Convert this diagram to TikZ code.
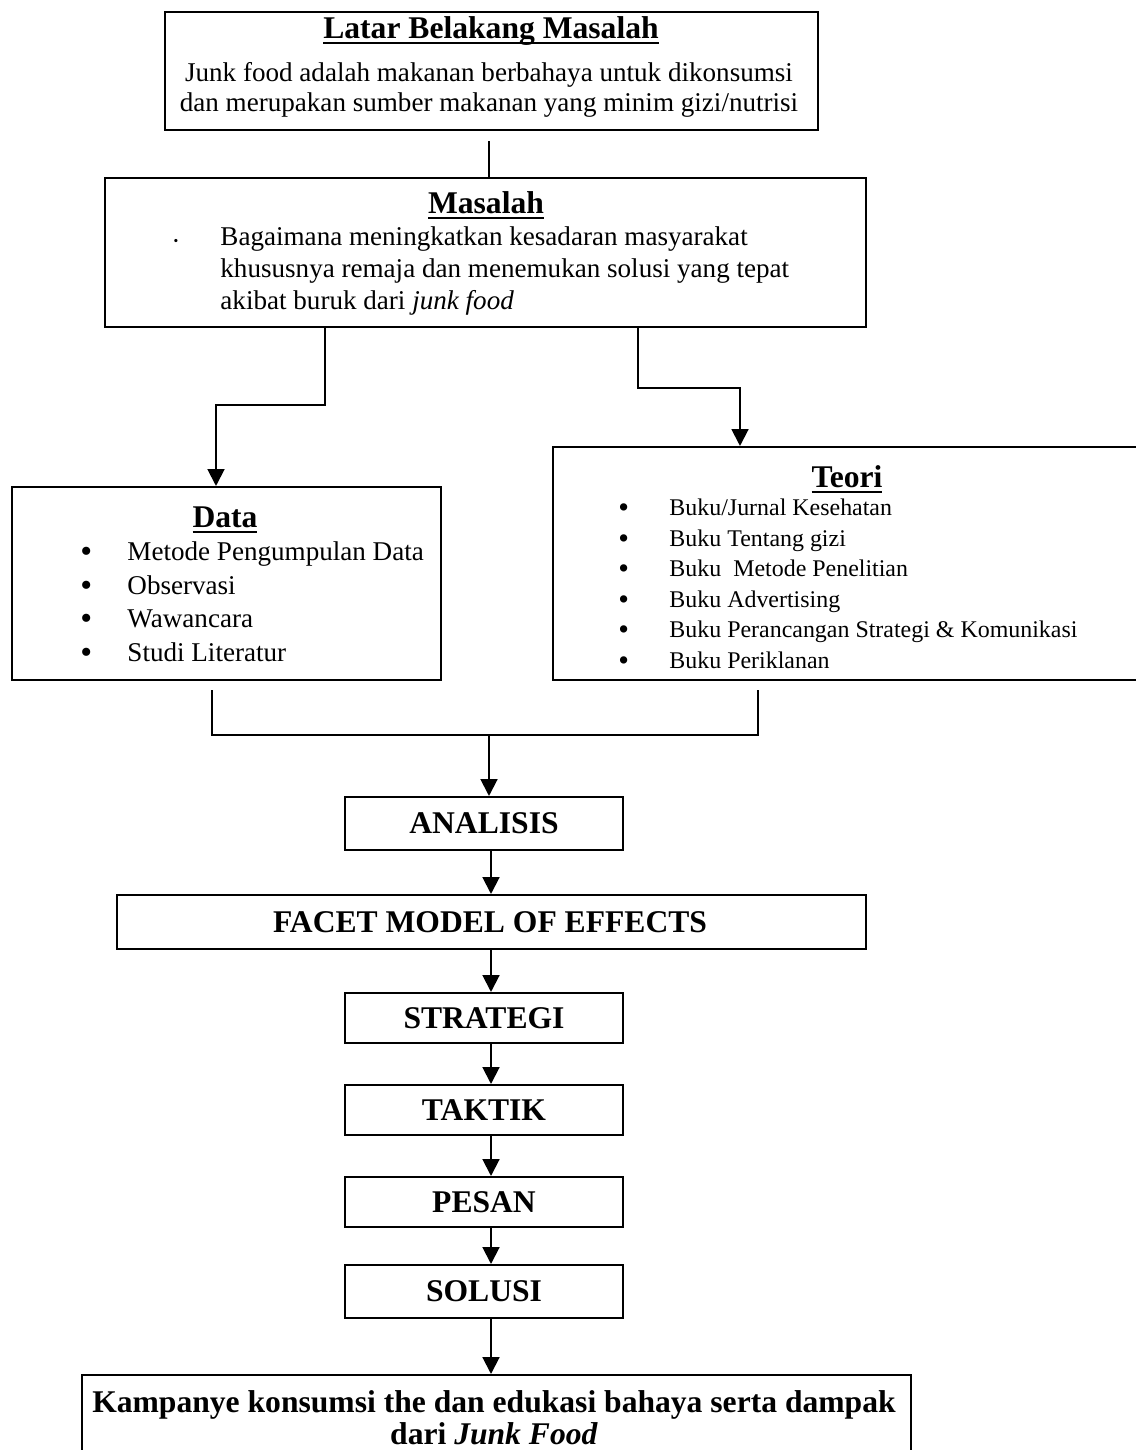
\documentclass[tikz,border=0pt]{standalone}
\usepackage{fontspec}
\setmainfont{Liberation Serif}
\usetikzlibrary{arrows.meta,fit}

\newcommand\garisbawah[1]{\setbox0\hbox{#1}\rlap{\rule[-2.4pt]{\wd0}{0.9pt}}\box0}

\tikzset{
  kotak/.style={draw, line width=0.9pt, inner sep=0pt},
  judul/.style={font=\fontsize{14}{16}\selectfont\bfseries},
  isi/.style={font=\fontsize{12}{14}\selectfont, anchor=base west, inner sep=0pt},
  kecil/.style={font=\fontsize{10.6}{12}\selectfont, anchor=base west, inner sep=0pt},
  titik/.style={font=\fontsize{15}{15}\selectfont, anchor=base west, inner sep=0pt},
  garis/.style={line width=0.9pt},
  panah/.style={garis, -{Triangle[length=7.5pt,width=7.5pt]}}
}

\begin{document}
\begin{tikzpicture}[x=0.443pt, y=-0.443pt]
  \useasboundingbox (0,0) rectangle (1135,1450);
  % kotak
  \node[kotak, fit={(165,12) (818,130)}] (latar) {};
  \node[kotak, fit={(105,178) (866,327)}] (masalah) {};
  \node[kotak, fit={(12,487) (441,680)}] (data) {};
  \node[kotak, fit={(553,447) (1141,680)}] (teori) {};
  \node[kotak, fit={(345,797) (623,850)}] (analisis) {};
  \node[kotak, fit={(117,895) (866,949)}] (facet) {};
  \node[kotak, fit={(345,993) (623,1043)}] (strategi) {};
  \node[kotak, fit={(345,1085) (623,1135)}] (taktik) {};
  \node[kotak, fit={(345,1177) (623,1227)}] (pesan) {};
  \node[kotak, fit={(345,1265) (623,1318)}] (solusi) {};
  \node[kotak, fit={(82,1375) (911,1490)}] (kampanye) {};

  % latar belakang
  \node[judul] (latar-j) at (491,31) {\garisbawah{Latar Belakang Masalah}};
  \node[font=\fontsize{12}{13}\selectfont, align=center] (latar-t) at (489,90)
    {Junk food adalah makanan berbahaya untuk dikonsumsi\\dan merupakan sumber makanan yang minim gizi/nutrisi};

  % masalah
  \node[judul] (masalah-j) at (486,205) {\garisbawah{Masalah}};
  \node[font=\fontsize{6}{6}\selectfont, anchor=base, inner sep=0pt] (masalah-b) at (176,245) {•};
  \foreach \t [count=\i] in {Bagaimana meningkatkan kesadaran masyarakat,
      khususnya remaja dan menemukan solusi yang tepat,
      akibat buruk dari \textit{junk food}} {
    \node[isi] (masalah-\i) at (220,{213+32*\i}) {\t};
  }

  % data
  \node[judul] (data-j) at (225,520) {\garisbawah{Data}};
  \foreach \t [count=\i] in {Metode Pengumpulan Data, Observasi, Wawancara, Studi Literatur} {
    \node[titik] (data-b\i) at (80,{529+33.6*\i}) {•};
    \node[isi] (data-\i) at (127,{527+33.6*\i}) {\t};
  }

  % teori
  \node[judul] (teori-j) at (847,479) {\garisbawah{Teori}};
  \foreach \t [count=\i] in {Buku/Jurnal Kesehatan, Buku Tentang gizi, Buku\ \ Metode Penelitian,
      Buku Advertising, Buku Perancangan Strategi \& Komunikasi, Buku Periklanan} {
    \node[titik, font=\fontsize{13.5}{14}\selectfont] (teori-b\i) at (618,{487+30.5*\i}) {•};
    \node[kecil] (teori-\i) at (669,{485+30.5*\i}) {\t};
  }

  % tahapan
  \node[judul] (analisis-t) at (analisis) {ANALISIS};
  \node[judul] (facet-t) at (490,922) {FACET MODEL OF EFFECTS};
  \node[judul] (strategi-t) at (strategi) {STRATEGI};
  \node[judul] (taktik-t) at (taktik) {TAKTIK};
  \node[judul] (pesan-t) at (pesan) {PESAN};
  \node[judul] (solusi-t) at (solusi) {SOLUSI};
  \node[judul, align=center, font=\fontsize{14}{14}\selectfont\bfseries] (kampanye-t) at (494,1418)
    {Kampanye konsumsi the dan edukasi bahaya serta dampak\\dari \textit{Junk Food}};

  % penghubung
  \coordinate (a1) at (489,141);
  \draw[garis] (a1) -- (a1 |- masalah.north);
  \coordinate (m1) at (325,327);
  \coordinate (b1) at (216,405);
  \draw[panah] (m1) |- (b1) -- (b1 |- data.north);
  \coordinate (m2) at (638,327);
  \coordinate (b2) at (740,388);
  \draw[panah] (m2) |- (b2) -- (b2 |- teori.north);
  \coordinate (d1) at (212,690);
  \coordinate (t1) at (758,690);
  \coordinate (gab) at (489,735);
  \draw[garis] (d1) |- (gab -| t1) -- (t1);
  \draw[panah] (gab) -- (gab |- analisis.north);
  \coordinate (sumbu) at (491,0);
  \foreach \a/\b in {analisis/facet, facet/strategi, strategi/taktik, taktik/pesan, pesan/solusi, solusi/kampanye}
    \draw[panah] (\a.south -| sumbu) -- (\b.north -| sumbu);
\end{tikzpicture}
\end{document}
